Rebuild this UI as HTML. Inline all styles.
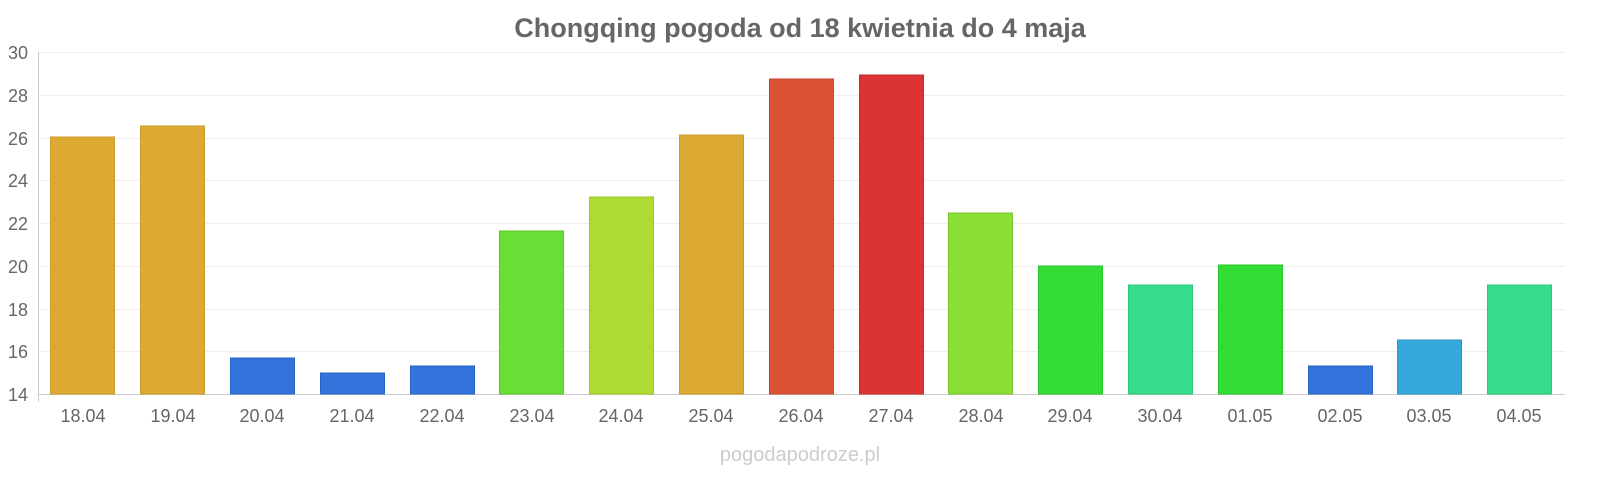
<!DOCTYPE html>
<html><head><meta charset="utf-8"><style>
html,body{margin:0;padding:0;background:#fff;}
svg text{font-family:"Liberation Sans",sans-serif;}
</style></head><body>
<svg width="1600" height="480" xmlns="http://www.w3.org/2000/svg">
<text x="800" y="37" text-anchor="middle" font-size="27" font-weight="bold" fill="#666">Chongqing pogoda od 18 kwietnia do 4 maja</text>
<g stroke="#eeeeee" stroke-width="1">
<line x1="38" x2="1565" y1="52.5" y2="52.5"/>
<line x1="38" x2="1565" y1="95.5" y2="95.5"/>
<line x1="38" x2="1565" y1="138.5" y2="138.5"/>
<line x1="38" x2="1565" y1="180.5" y2="180.5"/>
<line x1="38" x2="1565" y1="223.5" y2="223.5"/>
<line x1="38" x2="1565" y1="266.5" y2="266.5"/>
<line x1="38" x2="1565" y1="309.5" y2="309.5"/>
<line x1="38" x2="1565" y1="351.5" y2="351.5"/>
</g>
<line x1="38.5" x2="38.5" y1="52" y2="402" stroke="#ccc"/>
<line x1="38" x2="1565" y1="394.5" y2="394.5" stroke="#ccc"/>
<g font-size="18" fill="#666" text-anchor="end">
<text x="28" y="59">30</text><text x="28" y="102">28</text><text x="28" y="145">26</text>
<text x="28" y="187">24</text><text x="28" y="230">22</text><text x="28" y="273">20</text>
<text x="28" y="316">18</text><text x="28" y="358">16</text><text x="28" y="401">14</text>
</g>
<g stroke-width="1">
<rect x="50.5" y="137" width="64" height="257" fill="#dcaa33" stroke="#c99a2c"/>
<rect x="140.5" y="126" width="64" height="268" fill="#dcaa33" stroke="#c99a2c"/>
<rect x="230.5" y="358" width="64" height="36" fill="#3273dc" stroke="#2a63c0"/>
<rect x="320.5" y="373" width="64" height="21" fill="#3273dc" stroke="#2a63c0"/>
<rect x="410.5" y="366" width="64" height="28" fill="#3273dc" stroke="#2a63c0"/>
<rect x="499.5" y="231" width="64" height="163" fill="#6ade34" stroke="#5cc52c"/>
<rect x="589.5" y="197" width="64" height="197" fill="#aedc32" stroke="#9cc52b"/>
<rect x="679.5" y="135" width="64" height="259" fill="#dcaa33" stroke="#c99a2c"/>
<rect x="769.5" y="79" width="64" height="315" fill="#dc5234" stroke="#c4452b"/>
<rect x="859.5" y="75" width="64" height="319" fill="#dc3434" stroke="#c42b2b"/>
<rect x="948.5" y="213" width="64" height="181" fill="#8ade36" stroke="#7ac52e"/>
<rect x="1038.5" y="266" width="64" height="128" fill="#32dc34" stroke="#2ac52c"/>
<rect x="1128.5" y="285" width="64" height="109" fill="#35dc8a" stroke="#2dc57a"/>
<rect x="1218.5" y="265" width="64" height="129" fill="#32dc34" stroke="#2ac52c"/>
<rect x="1308.5" y="366" width="64" height="28" fill="#3273dc" stroke="#2a63c0"/>
<rect x="1397.5" y="340" width="64" height="54" fill="#35a8dc" stroke="#2d95c5"/>
<rect x="1487.5" y="285" width="64" height="109" fill="#35dc8a" stroke="#2dc57a"/>
</g>
<g font-size="18" fill="#666" text-anchor="middle">
<text x="83" y="422">18.04</text><text x="173" y="422">19.04</text><text x="262" y="422">20.04</text>
<text x="352" y="422">21.04</text><text x="442" y="422">22.04</text><text x="532" y="422">23.04</text>
<text x="621" y="422">24.04</text><text x="711" y="422">25.04</text><text x="801" y="422">26.04</text>
<text x="891" y="422">27.04</text><text x="981" y="422">28.04</text><text x="1070" y="422">29.04</text>
<text x="1160" y="422">30.04</text><text x="1250" y="422">01.05</text><text x="1340" y="422">02.05</text>
<text x="1429" y="422">03.05</text><text x="1519" y="422">04.05</text>
</g>
<text x="800" y="461" text-anchor="middle" font-size="20" fill="#ccc">pogodapodroze.pl</text>
</svg>
</body></html>
